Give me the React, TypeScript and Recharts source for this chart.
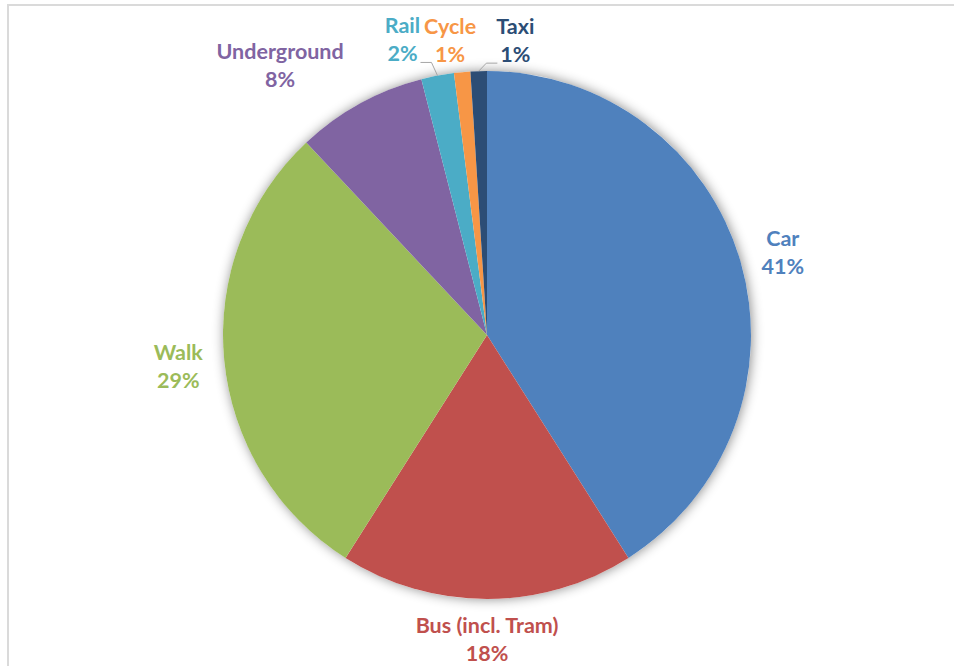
import React from "react";
import { PieChart, Pie, Cell } from "recharts";

const categories = ["Car", "Bus (incl. Tram)", "Walk", "Underground", "Rail", "Cycle", "Taxi"];
const shares = [41, 18, 29, 8, 2, 1, 1];
const colors = ["#4F81BD", "#C0504D", "#9BBB59", "#8064A2", "#4BACC6", "#F79646", "#2C4D75"];

const data = categories.map((name, i) => ({ name, value: shares[i] }));

// label layout tweaks (pixels) relative to radial placement
const labelNudge: Record<string, [number, number]> = {
  Car: [1, 3],
  "Bus (incl. Tram)": [0, -3],
  Walk: [-3, 2],
  Underground: [-59, -1],
  Rail: [-27, 6],
  Cycle: [-8, 11],
  Taxi: [38, 12],
};
const leaderFor = new Set(["Rail", "Taxi"]);

const RAD = Math.PI / 180;
const FONT = "Lato, Carlito, Calibri, sans-serif";
const FS = 21.5;

const renderLabel = (props: any) => {
  const { cx, cy, midAngle, outerRadius, index, percent } = props;
  const name = categories[index];
  const color = colors[index];
  const r = outerRadius + 43;
  const [nx, ny] = labelNudge[name] || [0, 0];
  const x = cx + r * Math.cos(-midAngle * RAD) + nx;
  const y = cy + r * Math.sin(-midAngle * RAD) + ny;
  const pct = Math.round(percent * 100) + "%";
  let leader = null;
  if (leaderFor.has(name)) {
    const sx = cx + outerRadius * Math.cos(-midAngle * RAD);
    const sy = cy + outerRadius * Math.sin(-midAngle * RAD);
    const side = nx < 0 ? -1 : 1;
    const ex = x - side * 29;
    const ey = y + 23;
    const fx = x - side * 18;
    leader = (
      <polyline
        points={`${sx},${sy} ${ex},${ey} ${fx},${ey}`}
        fill="none"
        stroke="#a6a6a6"
        strokeWidth={1}
      />
    );
  }
  return (
    <g key={`lbl-${index}`}>
      {leader}
      <text
        x={x}
        y={y - 14}
        textAnchor="middle"
        dominantBaseline="central"
        fill={color}
        fontFamily={FONT}
        fontWeight={700}
        fontSize={FS}
      >
        {name}
      </text>
      <text
        x={x}
        y={y + 14}
        textAnchor="middle"
        dominantBaseline="central"
        fill={color}
        fontFamily={FONT}
        fontWeight={700}
        fontSize={FS}
      >
        {pct}
      </text>
    </g>
  );
};

export default function App() {
  return (
    <div style={{ position: "fixed", left: 0, top: 0, width: 954, height: 666, background: "#fff" }}>
      <div
        style={{
          position: "absolute",
          left: 7,
          top: 4,
          right: -10,
          bottom: -10,
          borderLeft: "2px solid #dadada",
          borderTop: "2px solid #dadada",
        }}
      />
      <div style={{ position: "absolute", left: 0, top: 0 }}>
        <PieChart width={954} height={666} margin={{ top: 0, right: 0, bottom: 0, left: 0 }}>
          <Pie
            data={[{ name: "shadow", value: 1 }]}
            dataKey="value"
            cx={487}
            cy={335}
            outerRadius={264}
            startAngle={90}
            endAngle={-270}
            isAnimationActive={false}
            stroke="none"
            label={false}
            labelLine={false}
          >
            <Cell fill="#ffffff" style={{ filter: "drop-shadow(1px 0px 6px rgba(0,0,0,0.45))" }} />
          </Pie>
          <Pie
            data={data}
            dataKey="value"
            nameKey="name"
            cx={487}
            cy={335}
            outerRadius={264}
            startAngle={90}
            endAngle={-270}
            isAnimationActive={false}
            stroke="none"
            label={renderLabel}
            labelLine={false}
          >
            {data.map((d, i) => (
              <Cell key={d.name} fill={colors[i]} />
            ))}
          </Pie>
        </PieChart>
      </div>
    </div>
  );
}
